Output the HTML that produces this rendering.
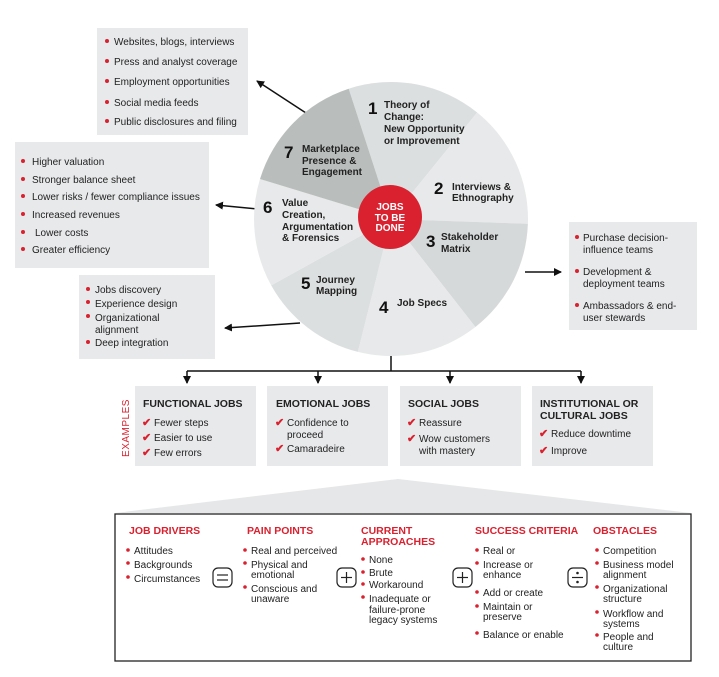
<!DOCTYPE html>
<html><head><meta charset="utf-8"><style>
html,body{margin:0;padding:0;background:#fff;}
svg{display:block;font-family:"Liberation Sans",sans-serif;}
.t{font-size:10px;fill:#222;}
.h{font-size:10.5px;font-weight:bold;fill:#222;}
.r{font-size:10.5px;font-weight:bold;fill:#d9212f;}
.n{font-size:17px;font-weight:bold;fill:#111;}
.pl{font-size:10px;font-weight:bold;fill:#222;}
.ck{fill:#d9212f;font-size:11px;font-weight:bold;}
</style></head><body>
<svg width="719" height="677" viewBox="0 0 719 677" xmlns="http://www.w3.org/2000/svg">
<defs><marker id="a" markerWidth="8" markerHeight="8" refX="7" refY="4" orient="auto" markerUnits="userSpaceOnUse"><path d="M0,0 L8,4 L0,8 z" fill="#111"/></marker></defs>

<!-- side boxes -->
<rect x="97" y="28" width="151" height="107" fill="#e8e9eb"/>
<rect x="15" y="142" width="194" height="126" fill="#e8e9eb"/>
<rect x="79" y="275" width="136" height="84" fill="#e8e9eb"/>
<rect x="569" y="222" width="128" height="108" fill="#e8e9eb"/>

<g fill="#d9212f">
<circle cx="107" cy="41" r="2"/><circle cx="107" cy="61" r="2"/><circle cx="107" cy="81" r="2"/><circle cx="107" cy="102" r="2"/><circle cx="107" cy="121" r="2"/>
<circle cx="23" cy="161" r="2"/><circle cx="23" cy="179" r="2"/><circle cx="23" cy="196" r="2"/><circle cx="23" cy="214" r="2"/><circle cx="23" cy="232" r="2"/><circle cx="23" cy="249" r="2"/>
<circle cx="88" cy="289" r="2"/><circle cx="88" cy="302" r="2"/><circle cx="88" cy="316" r="2"/><circle cx="88" cy="342" r="2"/>
<circle cx="577" cy="237" r="2"/><circle cx="577" cy="271" r="2"/><circle cx="577" cy="305" r="2"/>
</g>
<g class="t">
<text x="114" y="45">Websites, blogs, interviews</text>
<text x="114" y="65">Press and analyst coverage</text>
<text x="114" y="85">Employment opportunities</text>
<text x="114" y="106">Social media feeds</text>
<text x="114" y="125">Public disclosures and filing</text>
<text x="32" y="165">Higher valuation</text>
<text x="32" y="183">Stronger balance sheet</text>
<text x="32" y="200">Lower risks / fewer compliance issues</text>
<text x="32" y="218">Increased revenues</text>
<text x="35" y="236">Lower costs</text>
<text x="32" y="253">Greater efficiency</text>
<text x="95" y="293">Jobs discovery</text>
<text x="95" y="307">Experience design</text>
<text x="95" y="321">Organizational</text>
<text x="95" y="333">alignment</text>
<text x="95" y="346">Deep integration</text>
<text x="583" y="241">Purchase decision-</text>
<text x="583" y="253">influence teams</text>
<text x="583" y="275">Development &amp;</text>
<text x="583" y="287">deployment teams</text>
<text x="583" y="309">Ambassadors &amp; end-</text>
<text x="583" y="321">user stewards</text>
</g>

<!-- arrows -->
<g stroke="#111" stroke-width="1.5" fill="none">
<line x1="306" y1="113" x2="257" y2="81" marker-end="url(#a)"/>
<line x1="258" y1="209" x2="216" y2="205" marker-end="url(#a)"/>
<line x1="300" y1="323" x2="225" y2="328" marker-end="url(#a)"/>
<line x1="525" y1="272" x2="561" y2="272" marker-end="url(#a)"/>
<line x1="391" y1="355" x2="391" y2="371"/>
<line x1="187" y1="371" x2="581" y2="371"/>
<line x1="187" y1="371" x2="187" y2="383" marker-end="url(#a)"/>
<line x1="318" y1="371" x2="318" y2="383" marker-end="url(#a)"/>
<line x1="450" y1="371" x2="450" y2="383" marker-end="url(#a)"/>
<line x1="581" y1="371" x2="581" y2="383" marker-end="url(#a)"/>
</g>

<!-- pie -->
<g>
<path d="M391,219 L348.7,88.7 A137,137 0 0 1 477.2,112.5 Z" fill="#dcdfe0"/>
<path d="M391,219 L477.2,112.5 A137,137 0 0 1 527.9,223.8 Z" fill="#e8e9ea"/>
<path d="M391,219 L527.9,223.8 A137,137 0 0 1 475.4,327 Z" fill="#d6d9da"/>
<path d="M391,219 L475.4,327 A137,137 0 0 1 357.9,351.9 Z" fill="#e8e9ea"/>
<path d="M391,219 L357.9,351.9 A137,137 0 0 1 271.2,285.4 Z" fill="#dcdfe0"/>
<path d="M391,219 L271.2,285.4 A137,137 0 0 1 260,179 Z" fill="#e8e9ea"/>
<path d="M391,219 L260,179 A137,137 0 0 1 348.7,88.7 Z" fill="#b9bebc"/>
</g>
<circle cx="390" cy="217" r="32" fill="#d9212f"/>
<g font-size="10" font-weight="bold" fill="#fff" text-anchor="middle">
<text x="390" y="210">JOBS</text><text x="390" y="221">TO BE</text><text x="390" y="231">DONE</text>
</g>
<g class="n">
<text x="368" y="114">1</text><text x="434" y="194">2</text><text x="426" y="247">3</text>
<text x="379" y="313">4</text><text x="301" y="289">5</text><text x="263" y="213">6</text><text x="284" y="158">7</text>
</g>
<g class="pl">
<text x="384" y="108">Theory of</text><text x="384" y="120">Change:</text><text x="384" y="132">New Opportunity</text><text x="384" y="144">or Improvement</text>
<text x="452" y="190">Interviews &amp;</text><text x="452" y="201">Ethnography</text>
<text x="441" y="240">Stakeholder</text><text x="441" y="252">Matrix</text>
<text x="397" y="306">Job Specs</text>
<text x="316" y="283">Journey</text><text x="316" y="294">Mapping</text>
<text x="282" y="206">Value</text><text x="282" y="218">Creation,</text><text x="282" y="230">Argumentation</text><text x="282" y="241">&amp; Forensics</text>
<text x="302" y="152">Marketplace</text><text x="302" y="164">Presence &amp;</text><text x="302" y="175">Engagement</text>
</g>

<!-- examples boxes -->
<text transform="translate(129,428) rotate(-90)" text-anchor="middle" font-size="10" fill="#d9212f" letter-spacing="0.5">EXAMPLES</text>
<rect x="135" y="386" width="121" height="80" fill="#e8e9eb"/>
<rect x="267" y="386" width="121" height="80" fill="#e8e9eb"/>
<rect x="400" y="386" width="121" height="80" fill="#e8e9eb"/>
<rect x="532" y="386" width="121" height="80" fill="#e8e9eb"/>
<g class="h">
<text x="143" y="407">FUNCTIONAL JOBS</text>
<text x="276" y="407">EMOTIONAL JOBS</text>
<text x="408" y="407">SOCIAL JOBS</text>
<text x="540" y="407">INSTITUTIONAL OR</text><text x="540" y="419">CULTURAL JOBS</text>
</g>
<g class="ck">
<text x="142" y="426">✔</text><text x="142" y="441">✔</text><text x="142" y="456">✔</text>
<text x="275" y="426">✔</text><text x="275" y="452">✔</text>
<text x="407" y="426">✔</text><text x="407" y="442">✔</text>
<text x="539" y="437">✔</text><text x="539" y="454">✔</text>
</g>
<g class="t">
<text x="154" y="426">Fewer steps</text><text x="154" y="441">Easier to use</text><text x="154" y="456">Few errors</text>
<text x="287" y="426">Confidence to</text><text x="287" y="438">proceed</text><text x="287" y="452">Camaradeire</text>
<text x="419" y="426">Reassure</text><text x="419" y="442">Wow customers</text><text x="419" y="454">with mastery</text>
<text x="551" y="437">Reduce downtime</text><text x="551" y="454">Improve</text>
</g>

<!-- bottom -->
<polygon points="398,479 115,513 691,513" fill="#e6e7e8"/>
<rect x="115" y="514" width="576" height="147" fill="#fff" stroke="#222" stroke-width="1.3"/>
<g class="r">
<text x="129" y="534">JOB DRIVERS</text>
<text x="247" y="534">PAIN POINTS</text>
<text x="361" y="534">CURRENT</text><text x="361" y="545">APPROACHES</text>
<text x="475" y="534">SUCCESS CRITERIA</text>
<text x="593" y="534">OBSTACLES</text>
</g>
<g fill="#d9212f">
<circle cx="128" cy="550" r="1.8"/><circle cx="128" cy="563" r="1.8"/><circle cx="128" cy="577" r="1.8"/>
<circle cx="245" cy="550" r="1.8"/><circle cx="245" cy="563" r="1.8"/><circle cx="245" cy="587" r="1.8"/>
<circle cx="363" cy="559" r="1.8"/><circle cx="363" cy="572" r="1.8"/><circle cx="363" cy="584" r="1.8"/><circle cx="363" cy="597" r="1.8"/>
<circle cx="477" cy="550" r="1.8"/><circle cx="477" cy="563" r="1.8"/><circle cx="477" cy="592" r="1.8"/><circle cx="477" cy="606" r="1.8"/><circle cx="477" cy="633" r="1.8"/>
<circle cx="597" cy="550" r="1.8"/><circle cx="597" cy="563" r="1.8"/><circle cx="597" cy="587" r="1.8"/><circle cx="597" cy="612" r="1.8"/><circle cx="597" cy="635" r="1.8"/>
</g>
<g class="t">
<text x="134" y="554">Attitudes</text><text x="134" y="568">Backgrounds</text><text x="134" y="582">Circumstances</text>
<text x="251" y="554">Real and perceived</text><text x="251" y="568">Physical and</text><text x="251" y="578">emotional</text><text x="251" y="592">Conscious and</text><text x="251" y="602">unaware</text>
<text x="369" y="563">None</text><text x="369" y="576">Brute</text><text x="369" y="588">Workaround</text><text x="369" y="602">Inadequate or</text><text x="369" y="613">failure-prone</text><text x="369" y="623">legacy systems</text>
<text x="483" y="554">Real or</text><text x="483" y="568">Increase or</text><text x="483" y="578">enhance</text><text x="483" y="596">Add or create</text><text x="483" y="610">Maintain or</text><text x="483" y="620">preserve</text><text x="483" y="638">Balance or enable</text>
<text x="603" y="554">Competition</text><text x="603" y="568">Business model</text><text x="603" y="578">alignment</text><text x="603" y="592">Organizational</text><text x="603" y="602">structure</text><text x="603" y="617">Workflow and</text><text x="603" y="627">systems</text><text x="603" y="640">People and</text><text x="603" y="650">culture</text>
</g>
<g fill="none" stroke="#222" stroke-width="1.2">
<rect x="213" y="568" width="19" height="19" rx="5"/>
<rect x="337" y="568" width="19" height="19" rx="5"/>
<rect x="453" y="568" width="19" height="19" rx="5"/>
<rect x="568" y="568" width="19" height="19" rx="5"/>
<line x1="217" y1="575" x2="228" y2="575"/><line x1="217" y1="580" x2="228" y2="580"/>
<line x1="341" y1="577.5" x2="352" y2="577.5"/><line x1="346.5" y1="572" x2="346.5" y2="583"/>
<line x1="457" y1="577.5" x2="468" y2="577.5"/><line x1="462.5" y1="572" x2="462.5" y2="583"/>
<line x1="572" y1="577.5" x2="583" y2="577.5"/>
</g>
<circle cx="577.5" cy="573" r="1.3" fill="#222"/><circle cx="577.5" cy="582" r="1.3" fill="#222"/>
</svg>
</body></html>
